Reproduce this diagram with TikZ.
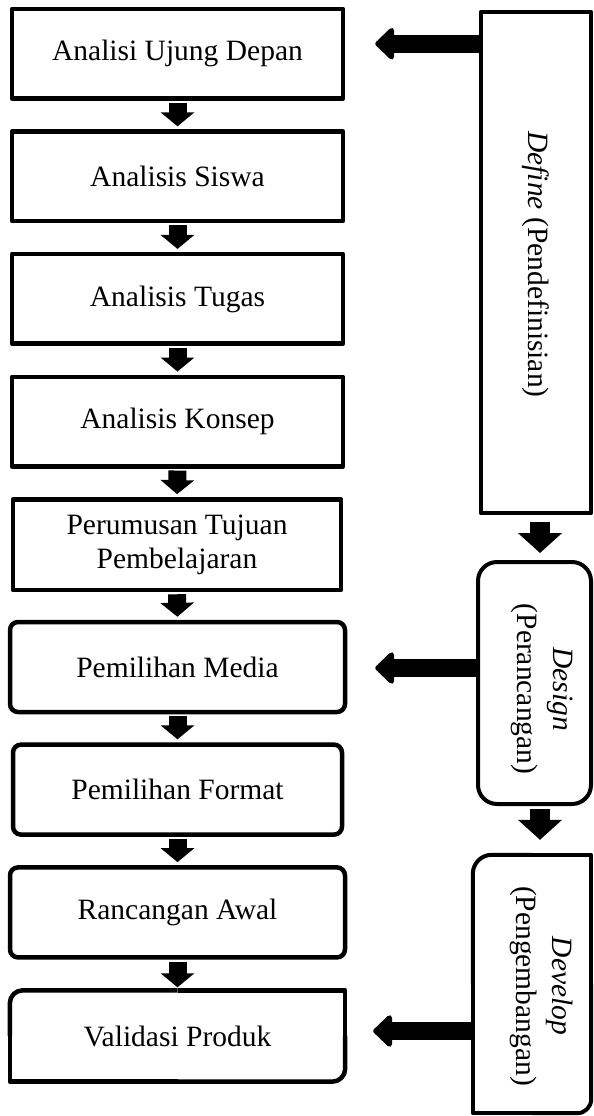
\documentclass[tikz,border=0pt]{standalone}
\usepackage{fontspec}
\setmainfont{Liberation Serif}
\usetikzlibrary{arrows.meta,calc}
\begin{document}
\begin{tikzpicture}[x=1pt,y=-1pt,
  txt/.style={inner sep=0pt, font=\fontsize{29.5}{34}\selectfont, align=center},
  lbox/.style={txt, draw, line width=4.5pt, line join=round, minimum height=89.5pt},
  rtxt/.style={inner sep=0pt, font=\fontsize{29.5}{36}\selectfont, align=center, rotate=-90},
  lbord/.style={line width=4.5pt, line join=round},
  rbord/.style={line width=4pt, line join=round},
  darr/.style={line width=18pt, -{Triangle[width=33pt,length=14pt]}, shorten <=2pt, shorten >=3pt},
  rdarr/.style={line width=20pt, -{Triangle[width=43pt,length=20pt]}},
  larr/.style={line width=18pt, -{Triangle[width=37pt,length=20pt,round]}},
]
\useasboundingbox (0,0) rectangle (594,1116);

% left column
\node[lbox, minimum width=331pt] (b1) at (177.5,53.75) {Analisi Ujung Depan};
\node[lbox, minimum width=331pt] (b2) at (177.5,176.35) {Analisis Siswa};
\node[lbox, minimum width=331pt] (b3) at (177.5,298.95) {Analisis Tugas};
\node[lbox, minimum width=331pt] (b4) at (177.5,421.55) {Analisis Konsep};
\node[lbox, minimum width=328pt, minimum height=90.6pt] (b5) at (177,544.7) {Perumusan Tujuan\\Pembelajaran};
\node[lbox, minimum width=335pt, minimum height=90pt, rounded corners=8pt] (b6) at (177.5,667) {Pemilihan Media};
\node[lbox, minimum width=329pt, minimum height=90pt, rounded corners=8pt] (b7) at (177.5,789.6) {Pemilihan Format};
\node[lbox, minimum width=335pt, minimum height=90pt, rounded corners=8pt] (b8) at (177.5,912.4) {Rancangan Awal};
\node[txt, minimum width=335pt, minimum height=91pt] (b9) at (177.5,1036) {Validasi Produk};
\draw[lbord, rounded corners=13pt] (b9.west) -- (b9.north west) -- (b9.north);
\draw[lbord] (b9.north) -- (b9.north east) -- (b9.east);
\draw[lbord, rounded corners=13pt] (b9.east) -- (b9.south east) -- (b9.south);
\draw[lbord] (b9.south) -- (b9.south west) -- (b9.west);

\foreach \a/\b in {b1/b2,b2/b3,b3/b4,b4/b5,b5/b6,b6/b7,b7/b8,b8/b9}
  \draw[darr] (\a.south) -- (\b.north);

% right column
\node[inner sep=0pt, minimum width=110pt, minimum height=501pt] (def) at (536,262.5) {};
\draw[rbord] (def.north west) rectangle (def.south east);
\node[rtxt] (deft) at ([yshift=-2pt]def.center) {\textit{Define} (Pendefinisian)};

\node[inner sep=0pt, minimum width=113pt, minimum height=242pt, draw, line width=4pt, rounded corners=19pt] (des) at (534.5,683) {};
\node[rtxt] (dest) at (542,689) {\textit{Design}\\(Perancangan)};

\node[inner sep=0pt, minimum width=118pt, minimum height=258pt] (dev) at (532,984) {};
\draw[rbord, rounded corners=19pt] (dev.west) -- (dev.north west) -- (dev.north);
\draw[rbord] (dev.north) -- (dev.north east) -- (dev.east);
\draw[rbord, rounded corners=14pt] (dev.east) -- (dev.south east) -- (dev.south);
\draw[rbord] (dev.south) -- (dev.south west) -- (dev.west);
\node[rtxt] (devt) at (542,986) {\textit{Develop}\\(Pengembangan)};

% right down arrows
\draw[rdarr, shorten <=9pt, shorten >=7pt] ([xshift=4pt]def.south) -- ([xshift=5.5pt]des.north);
\draw[rdarr, shorten <=3pt, shorten >=15pt] ([xshift=5.5pt]des.south) -- ([xshift=8pt]dev.north);

% left arrows
\coordinate (l1) at ([yshift=10pt]def.west |- b1.east);
\draw[larr, shorten >=30pt] (l1) -- (b1.east |- l1);
\coordinate (l2) at ([yshift=-1pt]des.west |- b6.east);
\draw[larr, shorten >=28pt] (l2) -- (b6.east |- l2);
\coordinate (l3) at ([yshift=5pt]dev.west |- b9.east);
\draw[larr, shorten >=28pt] (l3) -- (b9.east |- l3);
\end{tikzpicture}
\end{document}
